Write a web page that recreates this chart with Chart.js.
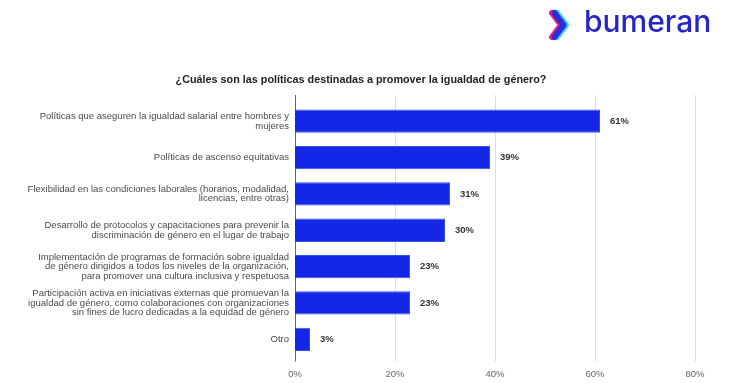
<!DOCTYPE html>
<html>
<head>
<meta charset="utf-8">
<script src="https://cdn.jsdelivr.net/npm/chart.js@4/dist/chart.umd.min.js"></script>
<style>
  html, body { margin: 0; padding: 0; background: #fff; }
  #wrap { position: relative; width: 730px; height: 383px; overflow: hidden; }
  #c { position: absolute; left: 0; top: 0; }
  #title { position: absolute; left: 0; top: 73px; width: 722px; text-align: center;
    font: bold 10.8px "Liberation Sans", Arial, sans-serif; color: #222; }
  #logoText { position: absolute; left: 584px; top: 3px; font: 500 30px Inter, "Noto Sans", sans-serif;
    color: #2626c8; }
  #logoIcon { position: absolute; left: 548px; top: 8px; }
</style>
</head>
<body>
<div id="wrap">
  <canvas id="c" width="730" height="383"></canvas>
  <svg id="logoIcon" width="26" height="34" viewBox="0 0 26 34">
    <polyline points="4,5 13,17 4,29" fill="none" stroke="#e3247f" stroke-width="6" stroke-linejoin="round" stroke-linecap="round"/>
    <polyline points="9,5 18,17 9,29" fill="none" stroke="#35d0e6" stroke-width="6" stroke-linejoin="round" stroke-linecap="round"/>
    <polyline points="6.5,5 15.5,17 6.5,29" fill="none" stroke="#2c2cd8" stroke-width="6" stroke-linejoin="round" stroke-linecap="round"/>
  </svg>
  <div id="logoText">bumeran</div>
  <div id="title">¿Cuáles son las políticas destinadas a promover la igualdad de género?</div>
</div>
<script>
const categories = [
  ["Políticas que aseguren la igualdad salarial entre hombres y", "mujeres"],
  "Políticas de ascenso equitativas",
  ["Flexibilidad en las condiciones laborales (horarios, modalidad,", "licencias, entre otras)"],
  ["Desarrollo de protocolos y capacitaciones para prevenir la", "discriminación de género en el lugar de trabajo"],
  ["Implementación de programas de formación sobre igualdad", "de género dirigidos a todos los niveles de la organización,", "para promover una cultura inclusiva y respetuosa"],
  ["Participación activa en iniciativas externas que promuevan la", "igualdad de género, como colaboraciones con organizaciones", "sin fines de lucro dedicadas a la equidad de género"],
  "Otro"
];
const values = [61, 39, 31, 30, 23, 23, 3];
const xTicks = [0, 20, 40, 60, 80];

const extendedGrid = {
  id: 'extendedGrid',
  beforeDatasetsDraw(chart) {
    const { ctx, chartArea, scales } = chart;
    const x = scales.x;
    ctx.save();
    ctx.lineWidth = 1;
    xTicks.forEach(t => {
      const px = Math.round(x.getPixelForValue(t)) + 0.5;
      ctx.strokeStyle = t === 0 ? '#666' : '#dedede';
      ctx.beginPath();
      ctx.moveTo(px, chartArea.top - 8);
      ctx.lineTo(px, chartArea.bottom + 4);
      ctx.stroke();
    });
    ctx.restore();
  },
  afterDatasetsDraw(chart) {
    const { ctx } = chart;
    const meta = chart.getDatasetMeta(0);
    ctx.save();
    ctx.font = 'bold 9.5px "Liberation Sans", Arial, sans-serif';
    ctx.fillStyle = '#333';
    ctx.textAlign = 'left';
    ctx.textBaseline = 'middle';
    meta.data.forEach((bar, i) => {
      ctx.fillText(values[i] + '%', bar.x + 10, bar.y);
    });
    ctx.restore();
  }
};

new Chart(document.getElementById('c'), {
  type: 'bar',
  data: {
    labels: categories,
    datasets: [{
      data: values,
      backgroundColor: '#1426e6',
      borderColor: '#3450f2',
      borderWidth: 1,
      barPercentage: 0.8,
      categoryPercentage: 0.8
    }]
  },
  options: {
    indexAxis: 'y',
    responsive: false,
    animation: false,
    devicePixelRatio: 1,
    layout: { padding: { left: 0, right: 35, top: 103, bottom: 3.5 } },
    plugins: { legend: { display: false }, tooltip: { enabled: false } },
    scales: {
      x: {
        min: 0, max: 80,
        afterBuildTicks(scale) { scale.ticks = xTicks.map(v => ({ value: v })); },
        afterFit(scale) { scale.height = 22; },
        grid: { display: false, drawTicks: false },
        border: { display: false },
        ticks: {
          padding: 11,
          color: '#666',
          font: { family: '"Liberation Sans", Arial, sans-serif', size: 9.5 },
          callback: v => v + '%'
        }
      },
      y: {
        afterFit(scale) { scale.width = 295; },
        grid: { display: false, drawTicks: false },
        border: { display: false },
        ticks: {
          padding: 6,
          color: '#4a4a4a',
          autoSkip: false,
          font: { family: '"Liberation Sans", Arial, sans-serif', size: 9.5, lineHeight: 1.0 }
        }
      }
    }
  },
  plugins: [extendedGrid]
});
</script>
</body>
</html>
